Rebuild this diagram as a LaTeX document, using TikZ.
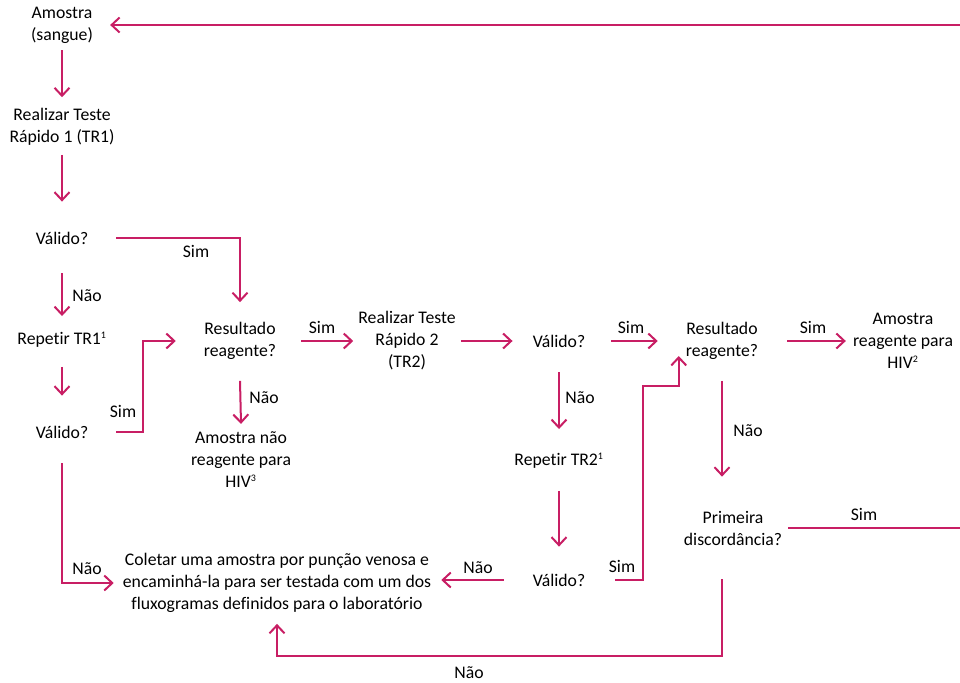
\documentclass[tikz,border=0pt]{standalone}
\usepackage{fontspec}
\setmainfont{Carlito}[Ligatures={NoCommon}]
\usepackage{tikz}
\usetikzlibrary{arrows.meta}
\definecolor{rosa}{HTML}{C81E64}
\newcommand\nota[1]{\textsuperscript{\fontsize{10}{10}\selectfont #1}}
\tikzset{caixa/.style={inner sep=0pt,align=center,font=\fontsize{17.7}{22}\selectfont},rotulo/.style={inner sep=0pt,font=\fontsize{17.7}{22}\selectfont},fluxo/.style={draw=rosa,line width=2pt,-{Straight Barb[length=8pt,width=15pt]}},linha/.style={draw=rosa,line width=2pt}}
\begin{document}
\begin{tikzpicture}[x=1pt,y=-1pt]
\useasboundingbox (0,0) rectangle (960,682);
% primeira coluna
\node[caixa] (amostra) at (62,25) {Amostra\\(sangue)};
\node[caixa] (teste1) at (62,127) {Realizar Teste\\Rápido 1 (TR1)};
\node[caixa] (valido1) at (62,238) {Válido?};
\node[caixa] (repete1) at (62,340) {Repetir TR1\nota{1}};
\node[caixa] (valido2) at (62,432) {Válido?};
% centro
\node[caixa] (result1) at (240,341) {Resultado\\reagente?};
\node[caixa] (naoreag) at (241,460) {Amostra não\\reagente para\\HIV\nota{3}};
\node[caixa] (teste2) at (407,341) {Realizar Teste\\Rápido 2\\(TR2)};
\node[caixa] (valido3) at (559,341) {Válido?};
\node[caixa] (repete2) at (559,461) {Repetir TR2\nota{1}};
\node[caixa] (valido4) at (559,580) {Válido?};
\node[caixa] (coletar) at (277,583) {Coletar uma amostra por punção venosa e\\encaminhá-la para ser testada com um dos\\fluxogramas definidos para o laboratório};
% direita
\node[caixa] (result2) at (722,341) {Resultado\\reagente?};
\node[caixa] (reag) at (903,341) {Amostra\\reagente para\\HIV\nota{2}};
\node[caixa] (discord) at (733,528) {Primeira\\discordância?};
\coordinate (volta) at (960,25);
\coordinate (sai) at (960,528);
% ligacoes
\draw[fluxo] (volta) -- ([xshift=17pt]amostra.east);
\draw[fluxo] ([yshift=-7pt]amostra.south) -- ([yshift=11pt]teste1.north);
\draw[fluxo] ([yshift=-9pt]teste1.south) -- ([yshift=30pt]valido1.north);
\draw[fluxo] ([xshift=28pt]valido1.east) -| ([yshift=20pt]result1.north);
\draw[fluxo] ([yshift=-29pt]valido1.south) -- ([yshift=16pt]repete1.north);
\draw[fluxo] ([yshift=-19pt]repete1.south) -- ([yshift=30pt]valido2.north);
\draw[fluxo] ([xshift=28pt]valido2.east) -- ++(27,0) |- ([xshift=-28pt]result1.west);
\draw[fluxo] ([yshift=-25pt]valido2.south) |- ([xshift=-9pt]coletar.west);
\draw[fluxo] ([xshift=25pt]result1.east) -- ([xshift=-5pt]teste2.west);
\draw[fluxo] ([yshift=-21pt]result1.south) -- ([yshift=8pt]naoreag.north);
\draw[fluxo] ([xshift=5pt]teste2.east) -- ([xshift=-20pt]valido3.west);
\draw[fluxo] ([xshift=26pt]valido3.east) -- ([xshift=-28pt]result2.west);
\draw[fluxo] ([yshift=-25pt]valido3.south) -- ([yshift=24pt]repete2.north);
\draw[fluxo] ([yshift=-22pt]repete2.south) -- ([yshift=27pt]valido4.north);
\draw[fluxo] ([xshift=30pt]valido4.east) -- ++(28,0) |- ([xshift=-7pt,yshift=-45pt]result2.west) -- ++(0,-30);
\draw[fluxo] ([xshift=-29pt]valido4.west) -- ([xshift=10pt]coletar.east |- valido4.west);
\draw[fluxo] ([xshift=29pt]result2.east) -- ([xshift=-7pt]reag.west);
\draw[fluxo] ([yshift=-21pt]result2.south) -- ([yshift=34pt]discord.north -| result2.south);
\draw[fluxo] ([yshift=-34pt]discord.south -| result2.south) -- ++(0,77) -| ([yshift=-11pt]coletar.south);
\draw[linha] ([xshift=6pt]discord.east) -- (sai);
% rotulos
\node[rotulo] (s1) at (196,251) {Sim};
\node[rotulo] (n1) at (87,296) {Não};
\node[rotulo] (s2) at (123,411) {Sim};
\node[rotulo] (n2) at (87,569) {Não};
\node[rotulo] (s3) at (322,327) {Sim};
\node[rotulo] (n3) at (264,398) {Não};
\node[rotulo] (s4) at (631,327) {Sim};
\node[rotulo] (n4) at (580,398) {Não};
\node[rotulo] (s5) at (813,327) {Sim};
\node[rotulo] (n5) at (748,431) {Não};
\node[rotulo] (s6) at (622,566) {Sim};
\node[rotulo] (n6) at (478,568) {Não};
\node[rotulo] (s7) at (864,514) {Sim};
\node[rotulo] (n7) at (469,673) {Não};
\end{tikzpicture}
\end{document}
